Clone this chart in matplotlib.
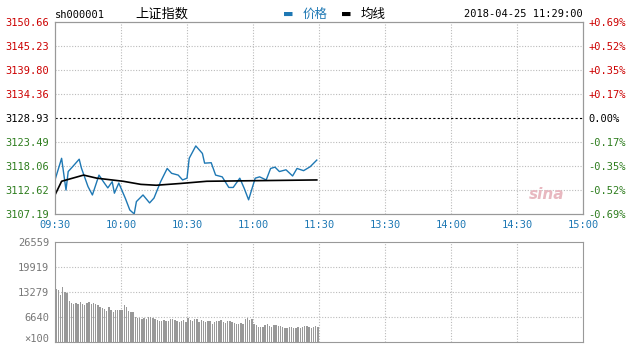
import numpy as np
import matplotlib
matplotlib.use('Agg')
import matplotlib.pyplot as plt
import matplotlib.transforms as mtrans

plt.rcParams['font.family'] = ['DejaVu Sans Mono', 'Noto Sans CJK SC']

# Données (minutes depuis 09:30)
prix_min = [0, 3, 5, 6, 8, 11, 12, 15, 17, 20, 22, 24, 26, 27, 29, 32, 34, 36, 37, 40,
            43, 45, 48, 51, 53, 56, 58, 60, 61, 64, 67, 68, 71, 73, 76, 79, 81, 84, 86, 88,
            91, 93, 96, 98, 100, 102, 105, 108, 110, 113, 116, 119]
prix = [3114.9, 3119.8, 3112.6, 3116.8, 3117.9, 3119.6, 3117.6, 3113.4, 3111.5, 3116.0,
        3114.5, 3113.1, 3114.5, 3111.9, 3114.2, 3110.7, 3108.1, 3107.2, 3110.0, 3111.5,
        3109.7, 3110.8, 3114.5, 3117.5, 3116.4, 3116.0, 3114.9, 3115.3, 3119.8, 3122.6,
        3120.9, 3118.7, 3118.8, 3116.0, 3115.6, 3113.2, 3113.2, 3115.3, 3113.0, 3110.4,
        3115.3, 3115.6, 3114.9, 3117.5, 3117.8, 3116.8, 3117.2, 3115.8, 3117.5, 3117.0,
        3117.9, 3119.4]
moy_min = [0, 3, 13, 19, 31, 39, 46, 57, 69, 119]
moyenne = [3111.5, 3114.6, 3116.0, 3115.3, 3114.6, 3113.9, 3113.7, 3114.1, 3114.6, 3114.9]

volume = [14200, 13800, 12500, 14500, 13300, 13000,
          10800, 10300, 10200, 10300, 10000, 10600,
          10100, 9700, 10400, 10700, 10200, 10400,
          10100, 9800, 9400, 8900, 8700, 8200,
          9400, 8500, 7900, 8400, 8600, 8600,
          8500, 9900, 9300, 8200, 8000, 8000,
          6600, 6300, 6400, 6200, 6300, 6100,
          6700, 6600, 6500, 6000, 5800, 5600,
          5600, 5900, 5500, 5700, 6200, 6100,
          5900, 5700, 5300, 5600, 5800, 5200,
          6300, 5800, 5700, 6100, 6000, 5300,
          5800, 5600, 5300, 5500, 5600, 4900,
          5200, 5600, 5500, 5800, 5400, 5000,
          5500, 5600, 5400, 5100, 4700, 4800,
          5000, 4800, 6200, 6300, 5900, 6100,
          4800, 4500, 4000, 3900, 4100, 4600,
          4800, 4300, 4000, 4500, 4500, 4300,
          4300, 4100, 3700, 3800, 4100, 3900,
          3600, 3800, 4000, 3700, 3900, 4300,
          4200, 4100, 3700, 4000, 4200, 4000]

niveaux = [3107.19, 3112.62, 3118.06, 3123.49, 3128.93, 3134.36, 3139.80, 3145.23, 3150.66]
pct = ['-0.69%', '-0.52%', '-0.35%', '-0.17%', '0.00%', '+0.17%', '+0.35%', '+0.52%', '+0.69%']
heures = ['09:30', '10:00', '10:30', '11:00', '11:30', '13:30', '14:00', '14:30', '15:00']
vol_ticks = [0, 6640, 13279, 19919, 26559]
vol_labels = ['×100', '6640', '13279', '19919', '26559']

ROUGE, VERT, BLEU, GRIS = '#cc0000', '#2e7d1e', '#1e78b4', '#999999'
fs = 7.5

fig = plt.figure(figsize=(6.3, 3.45), dpi=100)
ax = fig.add_axes([55 / 630, 1 - 214 / 345, 528 / 630, 192 / 345])
axv = fig.add_axes([55 / 630, 1 - 342 / 345, 528 / 630, 100 / 345])

xt = np.arange(0, 241, 30)

# Panneau des prix
ax.plot(prix_min, prix, color=BLEU, lw=1)
ax.plot(moy_min, moyenne, color='black', lw=1.2)
ax.set_xlim(0, 240)
ax.set_ylim(niveaux[0], niveaux[-1])
ax.set_xticks(xt)
ax.set_xticklabels(heures, color=BLEU, fontsize=fs)
ax.set_yticks(niveaux)
ax.set_yticklabels(['%.2f' % v for v in niveaux], fontsize=fs)
for lab, v in zip(ax.get_yticklabels(), niveaux):
    lab.set_color(ROUGE if v > niveaux[4] else ('black' if v == niveaux[4] else VERT))
ax.tick_params(length=0, pad=4)
for x in xt[1:-1]:
    ax.axvline(x, color='#bbbbbb', lw=0.8, ls=(0, (1, 1.5)), zorder=0)
for i, v in enumerate(niveaux[1:-1], 1):
    if i == 4:
        ax.axhline(v, color='black', lw=0.8, ls=(0, (2, 2)), zorder=0)
    else:
        ax.axhline(v, color='#bbbbbb', lw=0.8, ls=(0, (1, 1.5)), zorder=0)
for s in ax.spines.values():
    s.set_color(GRIS)

ax2 = ax.twinx()
ax2.set_ylim(niveaux[0], niveaux[-1])
ax2.set_yticks(niveaux)
ax2.set_yticklabels(pct, fontsize=fs)
for lab, v in zip(ax2.get_yticklabels(), niveaux):
    lab.set_color(ROUGE if v > niveaux[4] else ('black' if v == niveaux[4] else VERT))
ax2.tick_params(length=0, pad=4)
for s in ax2.spines.values():
    s.set_color(GRIS)

ax.text(0.965, 0.1, 'sina', transform=ax.transAxes, ha='right', va='center',
        fontsize=11, color='#e8b8c0', style='italic', family='DejaVu Sans', fontweight='bold')

# Panneau des volumes
axv.bar(np.arange(len(volume)) + 0.5, volume, width=0.55, color=GRIS, linewidth=0)
axv.set_xlim(0, 240)
axv.set_ylim(0, vol_ticks[-1])
axv.set_xticks([])
axv.set_yticks(vol_ticks)
axv.set_yticklabels(vol_labels, fontsize=fs, color='#777777')
axv.tick_params(length=0, pad=4)
# le libellé du bas remonte un peu pour ne pas être coupé
bas = axv.get_yticklabels()[0]
bas.set_transform(bas.get_transform() + mtrans.ScaledTranslation(0, 3 / 72, fig.dpi_scale_trans))
for x in xt[1:-1]:
    axv.axvline(x, color='#bbbbbb', lw=0.8, ls=(0, (1, 1.5)), zorder=0)
for v in vol_ticks[1:-1]:
    axv.axhline(v, color='#bbbbbb', lw=0.8, ls=(0, (1, 1.5)), zorder=0)
for s in axv.spines.values():
    s.set_color(GRIS)

# En-tête
fig.text(55 / 630, 1 - 15 / 345, 'sh000001', fontsize=7.5, va='center', ha='left')
fig.text(162 / 630, 1 - 14 / 345, '上证指数', fontsize=9.5, va='center', ha='center',
         family=['Noto Sans CJK SC'])
fig.text(288 / 630, 1 - 14 / 345, '▬', fontsize=8, color=BLEU, va='center', ha='center',
         family=['DejaVu Sans'])
fig.text(303 / 630, 1 - 14 / 345, '价格', fontsize=9, color=BLEU, va='center', ha='left',
         family=['Noto Sans CJK SC'])
fig.text(346 / 630, 1 - 14 / 345, '▬', fontsize=8, color='black', va='center', ha='center',
         family=['DejaVu Sans'])
fig.text(361 / 630, 1 - 14 / 345, '均线', fontsize=9, color='black', va='center', ha='left',
         family=['Noto Sans CJK SC'])
fig.text(583 / 630, 1 - 14 / 345, '2018-04-25 11:29:00', fontsize=7.5, va='center', ha='right')

fig.savefig('out.png', dpi=100)
